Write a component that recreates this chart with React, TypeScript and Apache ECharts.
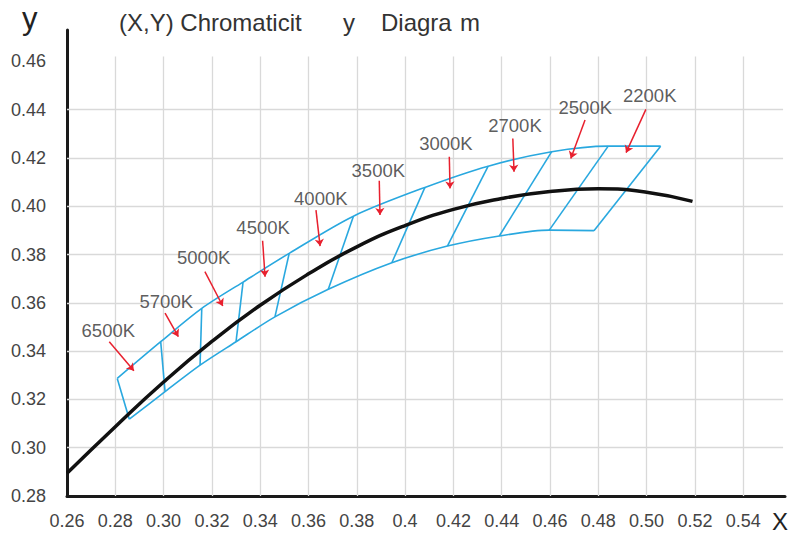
import React, { useEffect, useRef } from 'react';
import * as echarts from 'echarts';

// Axis tick labels
const xTickLabels = ['0.26', '0.28', '0.30', '0.32', '0.34', '0.36', '0.38', '0.4', '0.42', '0.44', '0.46', '0.48', '0.50', '0.52', '0.54'];
const yTickLabels = ['0.28', '0.30', '0.32', '0.34', '0.36', '0.38', '0.40', '0.42', '0.44', '0.46'];

// Black Planckian locus
const locusX = [0.26, 0.28, 0.30, 0.32, 0.34, 0.36, 0.38, 0.40, 0.42, 0.44, 0.46, 0.48, 0.50, 0.519];
const locusY = [0.2894, 0.3087, 0.3272, 0.3440, 0.3590, 0.3720, 0.3832, 0.3920, 0.3987, 0.4032, 0.4061, 0.4072, 0.4058, 0.4020];

// Blue quadrangle corners (upper and lower boundaries)
const upperX = [0.2808, 0.2988, 0.3158, 0.3329, 0.3520, 0.3786, 0.4082, 0.4344, 0.4607, 0.4841, 0.5058];
const upperY = [0.3287, 0.3439, 0.3577, 0.3686, 0.3805, 0.3959, 0.4078, 0.4166, 0.4226, 0.4249, 0.4249];
const lowerX = [0.2858, 0.3006, 0.3151, 0.3300, 0.3461, 0.3682, 0.3945, 0.4175, 0.4390, 0.4597, 0.4782];
const lowerY = [0.3118, 0.3232, 0.3342, 0.3439, 0.3542, 0.3656, 0.3766, 0.3835, 0.3877, 0.3901, 0.3899];

// CCT annotations
const cctNames = ['6500K', '5700K', '5000K', '4500K', '4000K', '3500K', '3000K', '2700K', '2500K', '2200K'];
const labelX = [0.2771, 0.3011, 0.3166, 0.3412, 0.3651, 0.3889, 0.4169, 0.4455, 0.4746, 0.5013];
const labelY = [0.3485, 0.3605, 0.3788, 0.3910, 0.4033, 0.4150, 0.4260, 0.4333, 0.4409, 0.4457];
const arrowFromX = [0.2775, 0.3006, 0.3171, 0.3410, 0.3631, 0.3893, 0.4183, 0.4446, 0.4745, 0.4997];
const arrowFromY = [0.3439, 0.3557, 0.3729, 0.3857, 0.3984, 0.4106, 0.4205, 0.4281, 0.4357, 0.4401];
const arrowToX = [0.2877, 0.3061, 0.3245, 0.3420, 0.3648, 0.3896, 0.4186, 0.4451, 0.4686, 0.4915];
const arrowToY = [0.3319, 0.3460, 0.3587, 0.3708, 0.3835, 0.3964, 0.4074, 0.4143, 0.4198, 0.4222];

const FONT = '"Liberation Sans", Arial, Helvetica, sans-serif';

export default function App() {
  const ref = useRef<HTMLDivElement>(null);

  useEffect(() => {
    if (!ref.current) return;
    const chart = echarts.init(ref.current, undefined, { renderer: 'svg' });

    const X_MIN = 0.26;
    const X_MAX = 0.5573;
    const Y_MIN = 0.28;
    const Y_MAX = 0.473;
    const GRID_TOP = 0.462;
    const GRID_RIGHT = 0.5565;

    const gridVertical = xTickLabels.slice(1).map((s) => ({ coords: [[Number(s), Y_MIN], [Number(s), GRID_TOP]] }));
    const gridHorizontal = yTickLabels.slice(1, -1).map((s) => ({ coords: [[X_MIN, Number(s)], [GRID_RIGHT, Number(s)]] }));

    const option: any = {
      animation: false,
      backgroundColor: '#ffffff',
      grid: { left: 67, top: 30, right: 8, bottom: 37, containLabel: false },
      xAxis: {
        type: 'value',
        min: X_MIN,
        max: X_MAX,
        interval: 0.02,
        axisLine: { show: true, lineStyle: { color: '#1a1a1a', width: 3 } },
        axisTick: { show: false },
        splitLine: { show: false },
        axisLabel: {
          margin: 16,
          fontSize: 18,
          color: '#444',
          fontFamily: FONT,
          showMaxLabel: false,
          formatter: (v: number) => xTickLabels[Math.round((v - X_MIN) / 0.02)] ?? '',
        },
      },
      yAxis: {
        type: 'value',
        min: Y_MIN,
        max: Y_MAX,
        interval: 0.02,
        axisLine: { show: true, lineStyle: { color: '#1a1a1a', width: 3 } },
        axisTick: { show: false },
        splitLine: { show: false },
        axisLabel: {
          margin: 21,
          fontSize: 18,
          color: '#444',
          fontFamily: FONT,
          showMaxLabel: false,
          formatter: (v: number) => yTickLabels[Math.round((v - Y_MIN) / 0.02)] ?? '',
        },
      },
      graphic: [
        { type: 'text', left: 22, top: 3, style: { text: 'y', fontSize: 31, fill: '#222', fontFamily: FONT } },
        { type: 'text', left: 772, top: 509, style: { text: 'X', fontSize: 24, fill: '#222', fontFamily: FONT } },
        { type: 'text', left: 119, top: 10, style: { text: '(X,Y) Chromaticit', fontSize: 24, fill: '#333', fontFamily: FONT } },
        { type: 'text', left: 343, top: 10, style: { text: 'y', fontSize: 24, fill: '#333', fontFamily: FONT } },
        { type: 'text', left: 381, top: 10, style: { text: 'Diagra', fontSize: 24, fill: '#333', fontFamily: FONT } },
        { type: 'text', left: 460, top: 10, style: { text: 'm', fontSize: 24, fill: '#333', fontFamily: FONT } },
      ],
      series: [
        {
          type: 'lines',
          coordinateSystem: 'cartesian2d',
          silent: true,
          z: 1,
          lineStyle: { color: '#d9d9d9', width: 1.3, opacity: 1 },
          data: [...gridVertical, ...gridHorizontal],
        },
        {
          type: 'line',
          z: 3,
          silent: true,
          smooth: 0.3,
          symbol: 'none',
          lineStyle: { color: '#29a8df', width: 1.6 },
          data: upperX.map((x, i) => [x, upperY[i]]),
        },
        {
          type: 'line',
          z: 3,
          silent: true,
          smooth: 0.3,
          symbol: 'none',
          lineStyle: { color: '#29a8df', width: 1.6 },
          data: lowerX.map((x, i) => [x, lowerY[i]]),
        },
        {
          type: 'lines',
          coordinateSystem: 'cartesian2d',
          silent: true,
          z: 3,
          lineStyle: { color: '#29a8df', width: 1.6, opacity: 1 },
          data: upperX.map((x, i) => ({ coords: [[x, upperY[i]], [lowerX[i], lowerY[i]]] })),
        },
        {
          type: 'line',
          z: 4,
          silent: true,
          smooth: true,
          symbol: 'none',
          lineStyle: { color: '#111', width: 3.5 },
          data: locusX.map((x, i) => [x, locusY[i]]),
        },
        {
          type: 'lines',
          coordinateSystem: 'cartesian2d',
          silent: true,
          z: 5,
          symbol: ['none', 'arrow'],
          symbolSize: 7,
          lineStyle: { color: '#e8202e', width: 1.5, opacity: 1 },
          data: arrowFromX.map((x, i) => ({ coords: [[x, arrowFromY[i]], [arrowToX[i], arrowToY[i]]] })),
        },
        {
          type: 'scatter',
          z: 6,
          silent: true,
          symbolSize: 0,
          label: {
            show: true,
            position: 'inside',
            formatter: (p: any) => p.name,
            fontSize: 18.5,
            color: '#333',
            fontFamily: FONT,
          },
          data: cctNames.map((n, i) => ({ name: n, value: [labelX[i], labelY[i]] })),
        },
      ],
    };

    chart.setOption(option);
    return () => chart.dispose();
  }, []);

  return <div ref={ref} style={{ position: 'fixed', left: 0, top: 0, width: 793, height: 533 }} />;
}
